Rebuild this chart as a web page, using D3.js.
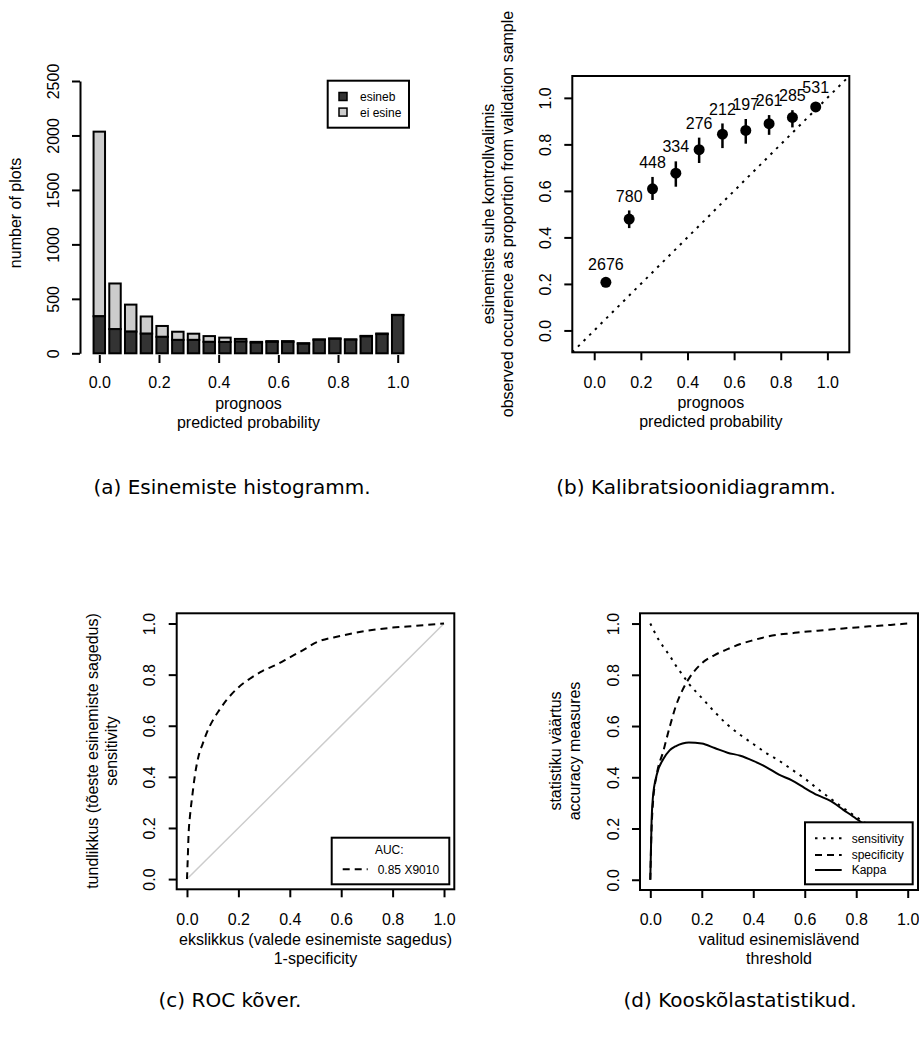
<!DOCTYPE html>
<html>
<head>
<meta charset="utf-8">
<script src="https://cdn.jsdelivr.net/npm/d3@7"></script>
<style>
body{margin:0;background:#fff}
svg text{font-family:"Liberation Sans",Arial,sans-serif;fill:#000}
.cap{font-family:"DejaVu Sans",sans-serif;font-size:20px}
</style>
</head>
<body>
<script>
// (a) histogram: bins of predicted probability
const binStarts=["0.00","0.05","0.10","0.15","0.20","0.25","0.30","0.35","0.40","0.45","0.50","0.55","0.60","0.65","0.70","0.75","0.80","0.85","0.90","0.95"]
const present=[340,222,199,180,151,123,123,105,104,108,98,105,105,88,124,133,125,155,176,350]
const absent=[1695,419,248,158,100,75,57,53,40,24,7,7,7,5,4,4,3,5,6,3]
const histLegend=["esineb","ei esine"]

// (b) calibration
const calX=[0.05,0.15,0.25,0.35,0.45,0.55,0.65,0.75,0.85,0.95]
const calY=[0.207,0.479,0.609,0.676,0.777,0.844,0.86,0.889,0.916,0.961]
const calLo=[0.195,0.44,0.561,0.618,0.72,0.784,0.803,0.841,0.873,0.943]
const calHi=[0.22,0.516,0.66,0.727,0.829,0.89,0.909,0.926,0.947,0.982]
const calN=[2676,780,448,334,276,212,197,261,285,531]

// (c) ROC
const rocFpr=[0,0.003,0.006,0.012,0.02,0.03,0.044,0.061,0.08,0.1,0.125,0.152,0.2,0.243,0.295,0.35,0.399,0.45,0.503,0.6,0.697,0.8,0.892,1]
const rocTpr=[0,0.08,0.17,0.25,0.32,0.4,0.477,0.529,0.58,0.62,0.66,0.698,0.75,0.783,0.815,0.84,0.867,0.895,0.926,0.952,0.971,0.984,0.991,1]
const aucLabel="0.85 X9010"

// (d) accuracy measures by threshold
const thresholds=[0,0.005,0.01,0.025,0.05,0.075,0.1,0.125,0.15,0.2,0.25,0.3,0.35,0.4,0.45,0.5,0.55,0.6,0.65,0.7,0.75,0.8,0.85,0.9,0.95,1]
const sensitivity=[1,0.99,0.98,0.95,0.91,0.875,0.835,0.8,0.765,0.71,0.655,0.605,0.565,0.53,0.495,0.465,0.43,0.395,0.355,0.317,0.28,0.245,0.208,0.14,0.07,0]
const specificity=[0,0.2,0.295,0.41,0.5,0.595,0.68,0.74,0.785,0.845,0.877,0.9,0.92,0.935,0.948,0.957,0.962,0.968,0.972,0.977,0.981,0.985,0.989,0.992,0.996,1]
const kappa=[0,0.23,0.32,0.41,0.47,0.505,0.522,0.532,0.536,0.532,0.514,0.496,0.484,0.464,0.44,0.41,0.388,0.358,0.33,0.308,0.273,0.238,0.2,0.14,0.07,0]
const measureNames=["sensitivity","specificity","Kappa"]

const ticks01=[0,0.2,0.4,0.6,0.8,1]
const dash="7,5", dots="2.5,5.5"

const svg=d3.select("body").append("svg")
    .attr("width",919).attr("height",1038)

//helpers, R base graphics look
function box(g,x,y){
  g.append("rect")
   .attr("x",x.range()[0]).attr("y",y.range()[1])
   .attr("width",x.range()[1]-x.range()[0])
   .attr("height",y.range()[0]-y.range()[1])
   .attr("fill","none").attr("stroke","#000").attr("stroke-width",2)
}
function bottomAxis(g,x,y0,vals,pad){
  const a=g.append("g").attr("transform","translate(0,"+y0+")")
   .call(d3.axisBottom(x).tickValues(vals).tickFormat(d3.format(".1f")).tickSize(8).tickPadding(pad))
  a.select(".domain").remove()
  a.selectAll("line").attr("stroke-width",2)
  a.selectAll("text").style("font-size","16px")
}
function leftAxis(g,y,x0,vals,fmt,keepLine){
  const a=g.append("g").attr("transform","translate("+x0+",0)")
   .call(d3.axisLeft(y).tickValues(vals).tickFormat(fmt).tickSize(8).tickSizeOuter(0))
  if(!keepLine) a.select(".domain").remove()
  else a.select(".domain").attr("stroke-width",2)
  a.selectAll("line").attr("stroke-width",2)
  a.selectAll("text").style("font-size","16px")
   .attr("x",0).attr("dy","0.35em").attr("text-anchor","middle")
   .attr("transform","translate(-27,0) rotate(-90)")
}
function label(g,x,y,lines,rot){
  const t=g.append("g").attr("transform","translate("+x+","+y+")"+(rot?" rotate(-90)":""))
  lines.forEach((s,i)=>{
    t.append("text").attr("y",i*19).attr("dy","0.35em")
     .attr("text-anchor","middle").style("font-size","16px").text(s)
  })
}

// ---------- (a) histogram ----------
const ga=svg.append("g")
const xa=d3.scaleLinear().domain([0,1]).range([99.3,397.7])
const ya=d3.scaleLinear().domain([0,2500]).range([353.3,81])
const step=(xa(1)-xa(0))/(binStarts.length-1)
const band=d3.scaleBand().domain(binStarts)
    .range([xa(0)-step/2,xa(1)+step/2]).paddingInner(0.27).paddingOuter(0.135)

const bars=ga.selectAll(".bin").data(binStarts).enter().append("g")
bars.append("rect")
    .attr("x",d=>band(d)).attr("width",band.bandwidth())
    .attr("y",(d,i)=>ya(present[i]+absent[i]))
    .attr("height",(d,i)=>ya(present[i])-ya(present[i]+absent[i]))
    .attr("fill","#cccccc").attr("stroke","#000").attr("stroke-width",2)
bars.append("rect")
    .attr("x",d=>band(d)).attr("width",band.bandwidth())
    .attr("y",(d,i)=>ya(present[i]))
    .attr("height",(d,i)=>ya(0)-ya(present[i]))
    .attr("fill","#333333").attr("stroke","#000").attr("stroke-width",2)

leftAxis(ga,ya,80,[0,500,1000,1500,2000,2500],d3.format("d"),true)
bottomAxis(ga,xa,355,ticks01,14)
label(ga,15,213,["number of plots"],true)
label(ga,xa(0.5),403,["prognoos","predicted probability"])

//legend
const la=ga.append("g")
la.append("rect").attr("x",327.7).attr("y",80.7).attr("width",81.3).attr("height",47)
    .attr("fill","#fff").attr("stroke","#000").attr("stroke-width",2)
histLegend.forEach((s,i)=>{
  la.append("rect").attr("x",339).attr("y",92.5+i*15.6).attr("width",8).attr("height",8)
    .attr("fill",i==0?"#333333":"#cccccc").attr("stroke","#000").attr("stroke-width",1.5)
  la.append("text").attr("x",360).attr("y",96.7+i*15.6).attr("dy","0.35em")
    .style("font-size","12px").text(s)
})

// ---------- (b) calibration ----------
const gb=svg.append("g")
const xb=d3.scaleLinear().domain([-0.094,1.094]).range([572.3,849.3])
const yb=d3.scaleLinear().domain([-0.094,1.094]).range([352.3,76])
box(gb,xb,yb)
gb.append("line")
    .attr("x1",xb(-0.094)).attr("y1",yb(-0.094)).attr("x2",xb(1.094)).attr("y2",yb(1.094))
    .attr("stroke","#000").attr("stroke-width",2).attr("stroke-dasharray",dots)
gb.selectAll(".err").data(calX).enter().append("line")
    .attr("x1",d=>xb(d)).attr("x2",d=>xb(d))
    .attr("y1",(d,i)=>yb(calLo[i])).attr("y2",(d,i)=>yb(calHi[i]))
    .attr("stroke","#000").attr("stroke-width",2.5)
gb.selectAll(".pt").data(calX).enter().append("circle")
    .attr("cx",d=>xb(d)).attr("cy",(d,i)=>yb(calY[i])).attr("r",5.5).attr("fill","#000")
gb.selectAll(".nlab").data(calX).enter().append("text")
    .attr("x",d=>xb(d)).attr("y",(d,i)=>yb(calHi[i])-14.5).attr("dy","0.35em")
    .attr("text-anchor","middle").style("font-size","16px").text((d,i)=>calN[i])
bottomAxis(gb,xb,352.3,ticks01,16)
leftAxis(gb,yb,572.3,ticks01,d3.format(".1f"))
label(gb,488.3,214,["esinemiste suhe kontrollvalimis","observed occurence as proportion from validation sample"],true)
label(gb,xb(0.5),402.7,["prognoos","predicted probability"])

// ---------- (c) ROC ----------
const gc=svg.append("g")
const xc=d3.scaleLinear().domain([-0.04,1.04]).range([176.7,454.3])
const yc=d3.scaleLinear().domain([-0.04,1.04]).range([889.3,613.3])
gc.append("line")
    .attr("x1",xc(0)).attr("y1",yc(0)).attr("x2",xc(1)).attr("y2",yc(1))
    .attr("stroke","#cccccc").attr("stroke-width",1.5)
gc.append("path").datum(rocFpr)
    .attr("d",d3.line().x(d=>xc(d)).y((d,i)=>yc(rocTpr[i])).curve(d3.curveMonotoneX))
    .attr("fill","none").attr("stroke","#000").attr("stroke-width",2).attr("stroke-dasharray",dash)
box(gc,xc,yc)
bottomAxis(gc,xc,889.3,ticks01,16)
leftAxis(gc,yc,176.7,ticks01,d3.format(".1f"))
label(gc,92,751,["tundlikkus (tõeste esinemiste sagedus)","sensitivity"],true)
label(gc,xc(0.5),939.3,["ekslikkus (valede esinemiste sagedus)","1-specificity"])
const lc=gc.append("g")
lc.append("rect").attr("x",331.7).attr("y",837.7).attr("width",117.6).attr("height",46.6)
    .attr("fill","#fff").attr("stroke","#000").attr("stroke-width",2)
lc.append("text").attr("x",389.3).attr("y",849.3).attr("dy","0.35em")
    .attr("text-anchor","middle").style("font-size","12px").text("AUC:")
lc.append("line").attr("x1",342.7).attr("x2",367.7).attr("y1",869.3).attr("y2",869.3)
    .attr("stroke","#000").attr("stroke-width",2).attr("stroke-dasharray",dash)
lc.append("text").attr("x",377.7).attr("y",869.3).attr("dy","0.35em")
    .style("font-size","12px").text(aucLabel)

// ---------- (d) accuracy measures ----------
const gd=svg.append("g")
const xd=d3.scaleLinear().domain([-0.04,1.04]).range([640,918])
const yd=d3.scaleLinear().domain([-0.04,1.04]).range([890,613.3])
const series=[sensitivity,specificity,kappa]
const styles=[dots,dash,null]
const lineD=vals=>d3.line().x(d=>xd(d)).y((d,i)=>yd(vals[i])).curve(d3.curveMonotoneX)(thresholds)
series.forEach((s,k)=>{
  gd.append("path").attr("d",lineD(s))
    .attr("fill","none").attr("stroke","#000").attr("stroke-width",2)
    .attr("stroke-dasharray",styles[k])
})
box(gd,xd,yd)
bottomAxis(gd,xd,890,ticks01,16)
leftAxis(gd,yd,640,ticks01,d3.format(".1f"))
label(gd,555,751,["statistiku väärtus","accuracy measures"],true)
label(gd,xd(0.5),939.3,["valitud esinemislävend","threshold"])
const ld=gd.append("g")
ld.append("rect").attr("x",805).attr("y",822.3).attr("width",107.7).attr("height",62)
    .attr("fill","#fff").attr("stroke","#000").attr("stroke-width",2)
measureNames.forEach((s,i)=>{
  const yy=[838.3,855,870][i]
  ld.append("line").attr("x1",815).attr("x2",841.7).attr("y1",yy).attr("y2",yy)
    .attr("stroke","#000").attr("stroke-width",2).attr("stroke-dasharray",styles[i])
  ld.append("text").attr("x",851.7).attr("y",yy).attr("dy","0.35em")
    .style("font-size","12px").text(s)
})

// captions
const caps=[["(a) Esinemiste histogramm.",232,487],["(b) Kalibratsioonidiagramm.",696,487],
            ["(c) ROC kõver.",230,1000],["(d) Kooskõlastatistikud.",740,1000]]
caps.forEach(c=>{
  svg.append("text").attr("class","cap").attr("x",c[1]).attr("y",c[2]).attr("dy","0.35em")
    .attr("text-anchor","middle").text(c[0])
})
</script>
</body>
</html>
